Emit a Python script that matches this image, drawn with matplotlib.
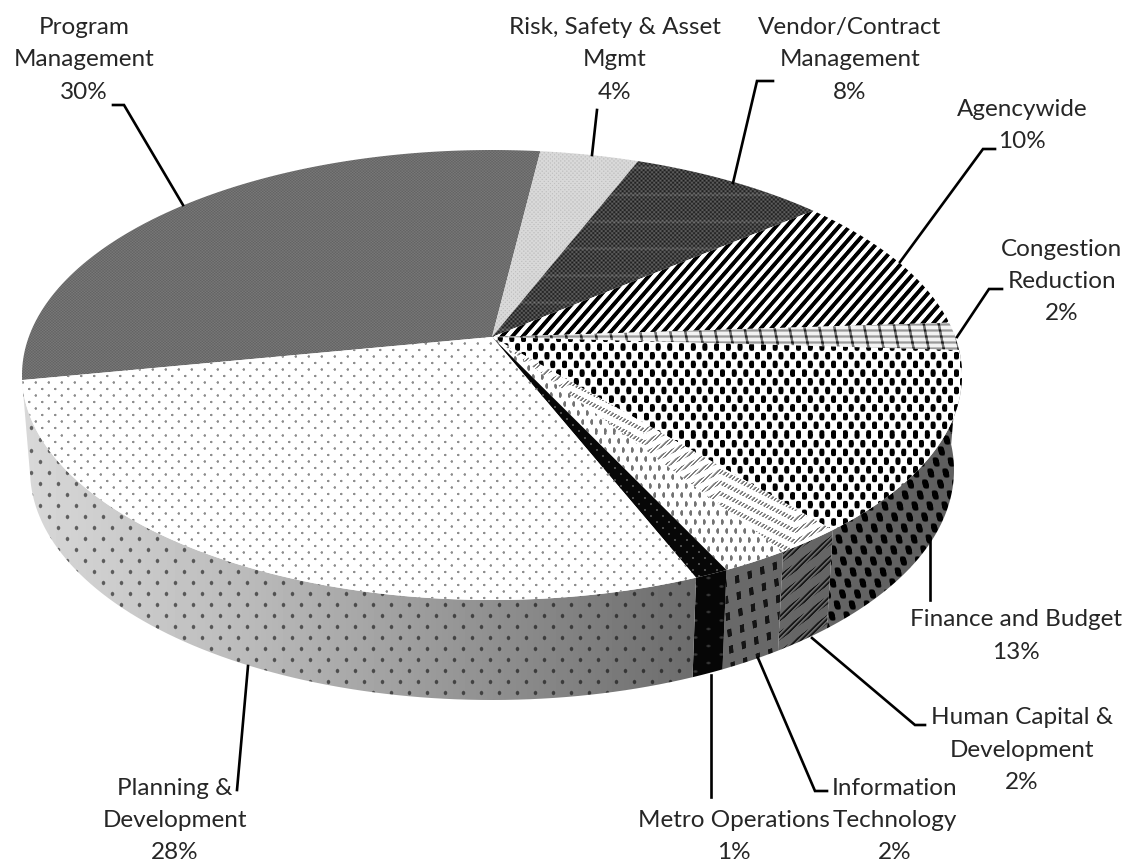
import numpy as np
import matplotlib
matplotlib.use("Agg")
import matplotlib.pyplot as plt
from matplotlib.patches import Polygon

# slices, clockwise, starting at the Program Management slice
categories = ["Program\nManagement", "Risk, Safety & Asset\nMgmt", "Vendor/Contract\nManagement",
              "Agencywide", "Congestion\nReduction", "Finance and Budget",
              "Human Capital &\nDevelopment", "Information\nTechnology", "Metro Operations",
              "Planning &\nDevelopment"]
shares = [30, 4, 8, 10, 2, 13, 2, 2, 1, 28]

W, H = 1128, 863
START = 259.0    # degrees clockwise from the far side of the disc
TILT = 0.169     # perspective: how far the apex sits above the ellipse middle

# where the labels and their leaders go, same order as categories
label_xy = [(84, 60), (615, 60), (850, 60), (1022, 125.5), (1062, 281.5), (1016, 636),
            (1022, 750), (895, 820.5), (734, 836.5), (175, 820.5)]
leaders = [[(113, 105), (124, 105), (183, 205)],
           [(597, 110), (592, 155)],
           [(773, 81), (757, 81), (733, 183)],
           [(995, 149), (983, 149), (900, 262)],
           [(1002, 289), (989, 289), (957, 337)],
           [(930, 600), (930, 540)],
           [(925, 725), (915, 725), (812, 638)],
           [(827, 791), (815, 791), (758, 658)],
           [(711, 797), (711, 675)],
           [(237, 790), (248, 666)]]

Y, X = np.mgrid[0:H, 0:W] + 0.5


def soft(v, gain=3.0):
    return np.clip(0.5 + gain * v, 0, 1)


def lattice(px, py, dx=0.0):
    # staggered lattice, peaks at 1
    a = np.sin(2 * np.pi * ((X + dx * Y) / px + Y / py))
    b = np.sin(2 * np.pi * ((X + dx * Y) / px - Y / py))
    return (a + b) / 2


# top surface patterns, 0 is black and 1 is white
def top_program():
    return 0.43 + 0.05 * np.sin(2 * np.pi * X / 3.1) * np.sin(2 * np.pi * Y / 2.7)


def top_risk():
    return 0.85 - 0.1 * np.clip(lattice(4.1, 4.1), 0, 1)


def top_vendor():
    return 0.25 + 0.14 * np.sin(2 * np.pi * X / 4.2) * np.sin(2 * np.pi * Y / 4.2) \
        + 0.1 * soft(np.sin(2 * np.pi * Y / 27) - 0.97, 8)


def top_agency():
    return soft(np.sin(2 * np.pi * (X + 0.87 * Y) / 10.5), 1.6)


def top_congestion():
    hl = soft(np.sin(2 * np.pi * Y / 6.0) - 0.4, 1.2)
    vl = soft(np.sin(2 * np.pi * (X - 0.2 * Y) / 15.0) - 0.85, 6)
    return 0.95 - 0.35 * hl - 0.5 * vl


def top_finance():
    return 1 - soft(lattice(11.7, 17.4) - 0.2, 3.5)


def top_capital():
    zig = 0.5 * np.abs(((X + 30) % 150) - 75)
    band = soft(np.sin(2 * np.pi * (Y + zig) / 11.0) - 0.2, 3)
    dash = soft(np.sin(2 * np.pi * (X + Y) / 4.5), 1.5)
    return 1 - 0.5 * band * dash


def top_it():
    return 1 - 0.55 * soft(lattice(9.0, 18.0) - 0.55, 4)


def top_metro():
    return 0.03 + 0.3 * soft(lattice(12.0, 12.0) - 0.85, 5)


def top_planning():
    return 1 - 0.45 * soft(lattice(13.0, 13.0) - 0.82, 5)


# side wall patterns, multiplied onto the shading
def side_plain():
    return np.ones_like(X)


def side_finance():
    return 1 - soft(lattice(15.0, 22.0, dx=-0.2) - 0.25, 3.5)


def side_capital():
    band = soft(np.sin(2 * np.pi * (X + Y) / 5.0), 1.5)
    rows = soft(np.sin(2 * np.pi * (Y + 0.75 * X) / 19.0) - 0.1, 4)
    return 1 - 0.75 * band * rows


def side_it():
    a = soft(np.sin(2 * np.pi * (X - 0.1 * Y) / 13.0) - 0.5, 4)
    b = soft(np.sin(2 * np.pi * (Y + 0.35 * X) / 17.0) - 0.1, 4)
    return 1 - 0.8 * a * b


def side_metro():
    return 0.06 + 0.5 * soft(lattice(26.0, 17.0) - 0.9, 5)


def side_planning():
    return 1 - 0.55 * soft(lattice(18.0, 22.0) - 0.82, 5)


top_patterns = [top_program, top_risk, top_vendor, top_agency, top_congestion, top_finance,
                top_capital, top_it, top_metro, top_planning]
side_patterns = [side_plain, side_plain, side_plain, side_plain, side_plain, side_finance,
                 side_capital, side_it, side_metro, side_planning]


def rim(theta, cx, cy, a, b):
    # unit circle pushed through a projective map, so the apex ends up above the middle
    u = np.sin(np.radians(theta))
    v = np.cos(np.radians(theta))
    w = 1 + TILT * v
    return np.column_stack((cx + a * u * np.sqrt(1 - TILT ** 2) / w, cy - b * (v + TILT) / w))


def top_rim(theta):
    return rim(theta, 492, 375, 470, 225)


def low_rim(theta):
    return rim(theta, 492, 470, 462, 230)


def show_clipped(ax, image, pts, zorder):
    clip = Polygon(pts, closed=True, facecolor="none", edgecolor="none", transform=ax.transData)
    ax.add_patch(clip)
    im = ax.imshow(image, cmap="gray", vmin=0, vmax=1, extent=(0, W, H, 0),
                   interpolation="nearest", aspect="auto", zorder=zorder)
    im.set_clip_path(clip)


def main():
    plt.rcParams["font.family"] = ["Lato", "DejaVu Sans"]
    fig = plt.figure(figsize=(W / 100, H / 100), dpi=100, facecolor="white")
    ax = fig.add_axes([0, 0, 1, 1])
    ax.axis("off")

    edges = START + np.cumsum([0] + shares) * 3.6
    apex = np.array([[492, 375 - 225 * TILT]])

    # wall shading goes from light on the left to dark on the right
    shade = np.interp(X, [22, 250, 700, 960], [0.85, 0.73, 0.42, 0.37])

    for i in range(len(shares)):
        theta = np.linspace(edges[i], edges[i + 1], 80)
        mid = (edges[i] + edges[i + 1]) / 2 % 360
        if 90 < mid < 270:
            wall = np.vstack((top_rim(theta), low_rim(theta)[::-1]))
            show_clipped(ax, shade * side_patterns[i](), wall, 1)

    for i in range(len(shares)):
        theta = np.linspace(edges[i], edges[i + 1], 120)
        show_clipped(ax, top_patterns[i](), np.vstack((apex, top_rim(theta))), 2)

    for pts in leaders:
        xs, ys = zip(*pts)
        ax.plot(xs, ys, color="black", lw=1.9, solid_joinstyle="miter", zorder=3)

    for name, share, (tx, ty) in zip(categories, shares, label_xy):
        ax.text(tx, ty, f"{name}\n{share}%", ha="center", va="center", fontsize=17.5,
                color="#262626", linespacing=1.67, zorder=4)

    ax.set_xlim(0, W)
    ax.set_ylim(H, 0)
    fig.savefig("out.png", dpi=100)


if __name__ == "__main__":
    main()
